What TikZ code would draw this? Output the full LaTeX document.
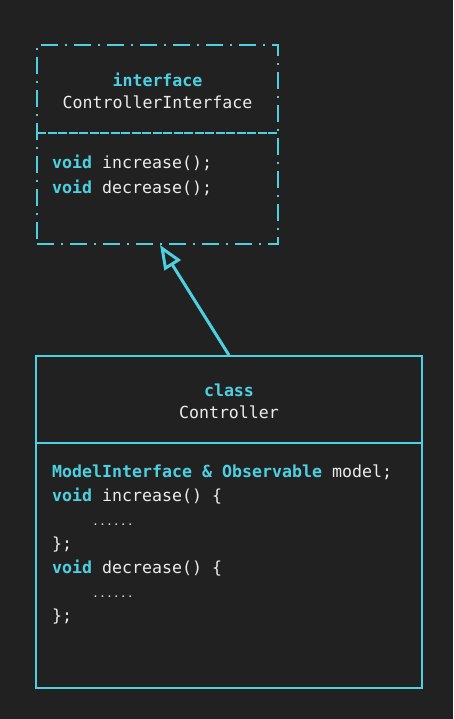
\documentclass[tikz,border=0pt]{standalone}
\usepackage{fontspec}
\setmonofont{DejaVu Sans Mono}
\usetikzlibrary{arrows.meta}
\definecolor{bgdark}{HTML}{212121}
\definecolor{umlcyan}{HTML}{4DD0E1}
\definecolor{codewhite}{HTML}{ECECEC}
\definecolor{dotgrey}{HTML}{DDDDDD}
\newcommand{\kw}[1]{{\bfseries\color{umlcyan}#1}}
\newcommand{\elide}{\hphantom{0000}{\fontsize{11.5}{11}\selectfont\color{dotgrey}......}}

\tikzset{ifbox/.style = {shape = rectangle,
                         draw = umlcyan,
                         line width = 2pt,
                         dash pattern = on 17pt off 7pt on 2pt off 7pt,
                         minimum width = 241pt,
                         minimum height = 199pt,
                         inner sep = 0pt},
         clsbox/.style = {shape = rectangle,
                          draw = umlcyan,
                          line width = 1.6pt,
                          minimum width = 386pt,
                          minimum height = 332pt,
                          inner sep = 0pt},
         ifdiv/.style = {draw = umlcyan, line width = 1.6pt,
                         dash pattern = on 9pt off 1.5pt},
         clsdiv/.style = {draw = umlcyan, line width = 1.6pt},
         headtext/.style = {font = \ttfamily\fontsize{16.6}{22}\selectfont,
                            text = codewhite, align = center},
         codetext/.style = {font = \ttfamily\fontsize{16.6}{24}\selectfont,
                            text = codewhite, align = left,
                            anchor = north west, inner sep = 0pt},
         realize/.style = {draw = umlcyan, line width = 3pt,
                           -{Triangle[open, length = 24pt, width = 19pt]}}}

\begin{document}
\begin{tikzpicture}[x=1pt, y=-1pt]
  \useasboundingbox[fill = bgdark] (0,0) rectangle (453,719);

  % interface box
  \node[ifbox] (iface) at (157.5,144.5) {};
  \coordinate (ifdivl) at (37,133);
  \coordinate (ifdivr) at (278,133);
  \draw[ifdiv] (ifdivl) -- (ifdivr);
  \node[headtext] (ifname) at (157.5,91) {\kw{interface}\\ControllerInterface};
  \node[codetext, font = \ttfamily\fontsize{16.6}{25}\selectfont] (ifbody) at (52,155) {\kw{void} increase();\\\kw{void} decrease();};

  % class box
  \node[clsbox] (ctrl) at (229,522) {};
  \coordinate (clsdivl) at (36,443);
  \coordinate (clsdivr) at (422,443);
  \draw[clsdiv] (clsdivl) -- (clsdivr);
  \node[headtext] (clsname) at (229,401) {\kw{class}\\Controller};
  \node[codetext] (clsbody) at (52,465) {\kw{ModelInterface \& Observable} model;\\
    \kw{void} increase() \{\\
    \elide\\
    \};\\
    \kw{void} decrease() \{\\
    \elide\\
    \};};

  % realization
  \draw[realize] (ctrl.north) -- ([xshift=2.5pt]iface.south);
\end{tikzpicture}
\end{document}
